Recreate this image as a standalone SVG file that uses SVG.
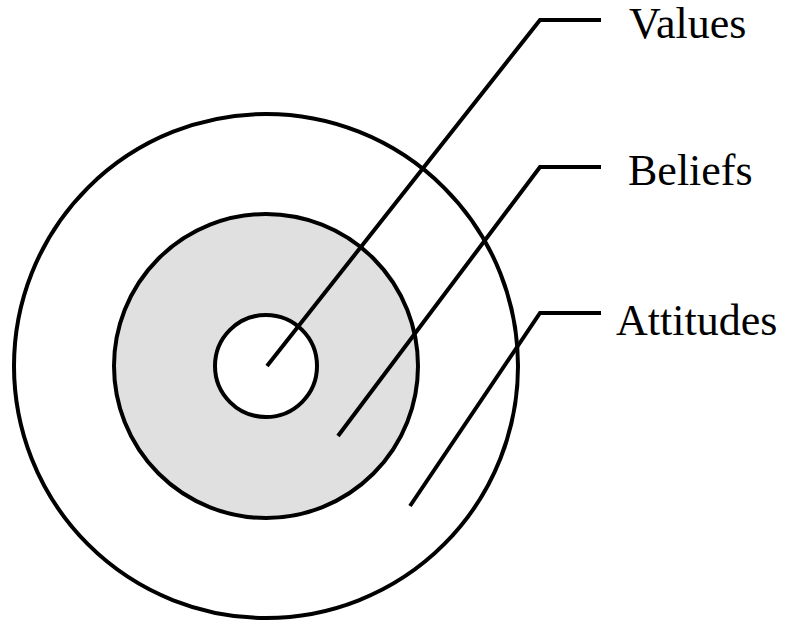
<svg xmlns="http://www.w3.org/2000/svg" width="795" height="620" viewBox="0 0 795 620">
<style>
.c{stroke:#000;stroke-width:4}
.l{fill:none;stroke:#000;stroke-width:4}
.t{font-family:"Liberation Serif","Times New Roman",serif;font-size:44px;fill:#000}
</style>
<rect width="795" height="620" fill="#fff"/>
<g id="attitudes"><circle class="c" cx="266" cy="366" r="252" fill="#fff"/></g>
<g id="beliefs"><circle class="c" cx="266" cy="366" r="152" fill="#e0e0e0"/></g>
<g id="values"><circle class="c" cx="266" cy="366" r="51" fill="#fff"/></g>
<g id="connectors">
<polyline class="l" points="267,366 540,20 601,20"/>
<polyline class="l" points="338,436 540,167 601,167"/>
<polyline class="l" points="410,506 540,313 601,313"/>
</g>
<g id="labels">
<text class="t" x="629" y="38">Values</text>
<text class="t" x="628" y="185">Beliefs</text>
<text class="t" x="616" y="335">Attitudes</text>
</g>
</svg>
